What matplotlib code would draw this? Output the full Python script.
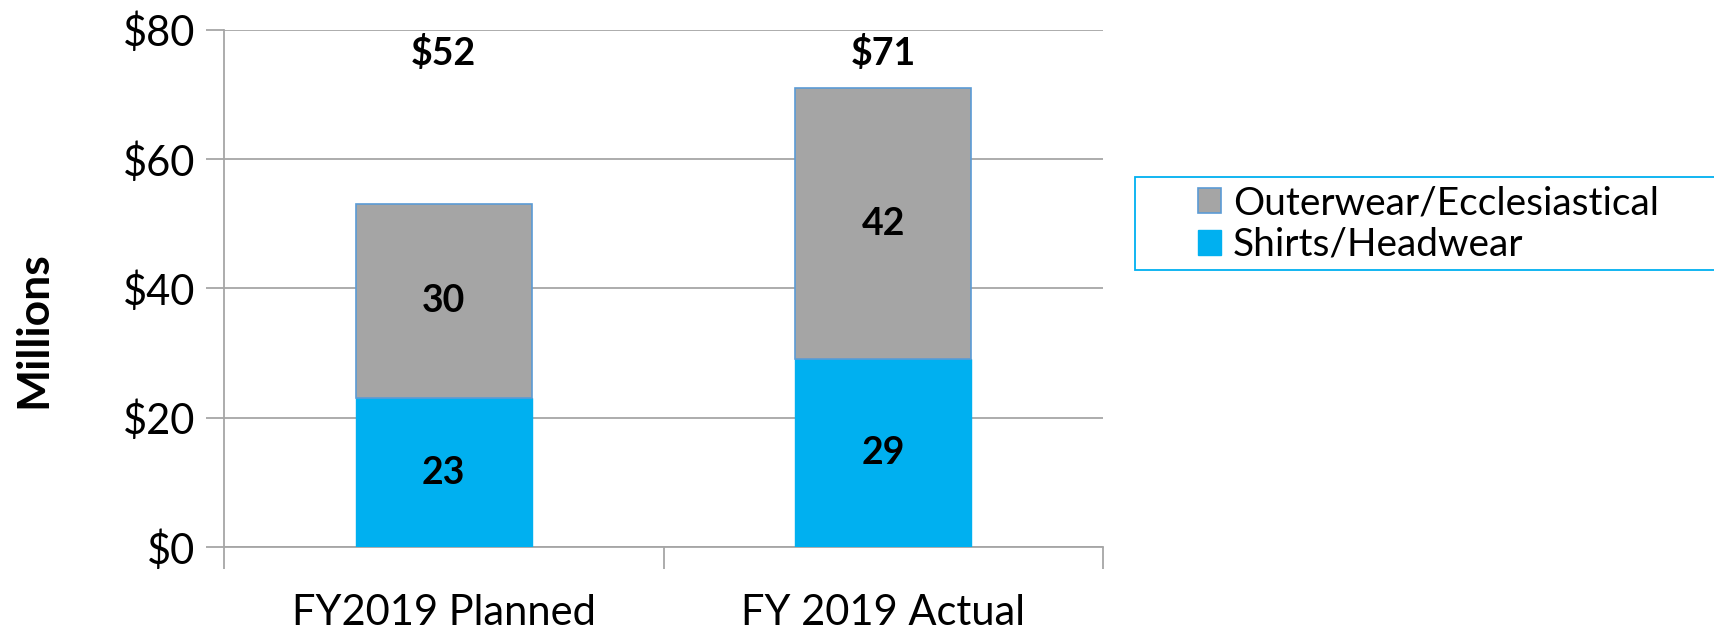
import matplotlib
matplotlib.use("Agg")
import matplotlib.pyplot as plt
from matplotlib.patches import Rectangle
import numpy as np

categories = ["FY2019 Planned", "FY 2019 Actual"]
shirts = [23, 29]
outerwear = [30, 42]
total_labels = ["$52", "$71"]
series_names = ["Shirts/Headwear", "Outerwear/Ecclesiastical"]
yticks = [0, 20, 40, 60, 80]
ytick_labels = ["$0", "$20", "$40", "$60", "$80"]

plt.rcParams['font.family'] = ['Lato', 'DejaVu Sans']

W, H = 1715, 629
fig = plt.figure(figsize=(W/100, H/100), dpi=100)
ax = fig.add_axes([224/W, 1-547/H, (1103-224)/W, (547-29.5)/H])

x = np.arange(len(categories))
grid_c = "#a6a6a6"
b1 = ax.bar(x, shirts, width=0.4, color="#00b0f0", edgecolor="#00b0f0", linewidth=1, zorder=3,
            label=series_names[0])
b2 = ax.bar(x, outerwear, bottom=shirts, width=0.4, color="#a5a5a5", edgecolor="#5b9bd5",
            linewidth=1.2, zorder=3, label=series_names[1])

for i in range(len(categories)):
    ax.text(x[i], shirts[i] / 2, str(shirts[i]), ha="center", va="center",
            fontsize=27, fontweight="bold", zorder=4)
    ax.text(x[i], shirts[i] + outerwear[i] / 2, str(outerwear[i]), ha="center", va="center",
            fontsize=27, fontweight="bold", zorder=4)
    ax.text(x[i], 76.3, total_labels[i], ha="center", va="center",
            fontsize=27, fontweight="bold", zorder=4)

ax.set_xlim(-0.5, 1.5)
ax.set_ylim(0, 80)
ax.set_yticks(yticks)
ax.set_yticklabels(ytick_labels, fontsize=30)
ax.set_xticks(x)
ax.set_xticklabels(categories, fontsize=30)
ax.tick_params(axis="x", length=0, pad=34)
ax.set_xticks([-0.5, 0.5, 1.5], minor=True)
ax.tick_params(axis="x", which="minor", length=16, color=grid_c, width=1.3)
ax.tick_params(axis="y", length=13, color=grid_c, width=1.3, pad=8)
ax.yaxis.grid(True, color=grid_c, linewidth=1.3, zorder=0)
ax.set_axisbelow(True)
for s in ["top", "right"]:
    ax.spines[s].set_visible(False)
for s in ["left", "bottom"]:
    ax.spines[s].set_color(grid_c)
    ax.spines[s].set_linewidth(1.3)

fig.text(33/W, 1-330/H, "Millions", rotation=90, ha="center", va="center",
         fontsize=32, fontweight="bold")

# legend box
fig.patches.append(Rectangle((1135/W, 1-270/H), (W-1135)/W + 0.01, 93/H,
                             transform=fig.transFigure, facecolor="white",
                             edgecolor="#00b0f0", linewidth=1.3, zorder=1))
handles = [b2, b1]
leg = fig.legend(handles, [series_names[1], series_names[0]],
                 loc="center left", bbox_to_anchor=(1198/W, 1-224/H),
                 frameon=False, fontsize=28,
                 handlelength=0.6, handleheight=0.6, handletextpad=0.3,
                 borderpad=0, labelspacing=0.15, borderaxespad=0)
leg.set_zorder(5)

fig.savefig("out.png", dpi=100)
